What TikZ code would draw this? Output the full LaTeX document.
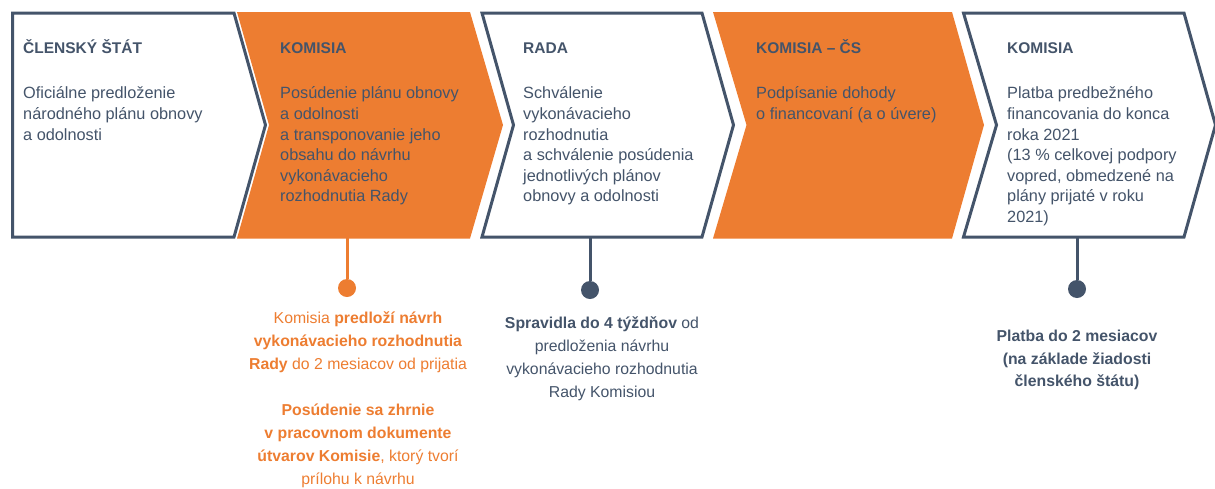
\documentclass[tikz,border=0pt]{standalone}
\usepackage{fontspec}
\setmainfont{Liberation Sans}
\definecolor{slate}{HTML}{44546A}
\definecolor{orng}{HTML}{ED7D31}
\tikzset{
  chevw/.style={draw=slate,line width=3pt,fill=white,line join=miter},
  chevo/.style={fill=orng},
  hd/.style={anchor=base west,inner sep=0pt,text=slate,font=\fontsize{15.5}{19}\selectfont\bfseries},
  bd/.style={anchor=north west,inner sep=0pt,text=slate,align=left,font=\fontsize{16.3}{20.6}\selectfont},
  note/.style={anchor=north,inner sep=0pt,align=center,font=\fontsize{15.8}{23}\selectfont},
  dotd/.style={circle,fill=slate,minimum size=18pt,inner sep=0pt},
  doto/.style={circle,fill=orng,minimum size=18pt,inner sep=0pt},
  stemd/.style={draw=slate,line width=3pt},
  stemo/.style={draw=orng,line width=3pt}
}
\begin{document}
\begin{tikzpicture}[x=1pt,y=-1pt]
    \useasboundingbox(0,0)rectangle(1215,488);
    % steps
    \draw[chevw](12.5,13)--(234,13)--(265.5,125)--(234,237)--(12.5,237)--cycle;
    \fill[chevo](237,12)--(470,12)--(503,125)--(470,238.5)--(237,238.5)--(269,125)--cycle;
    \draw[chevw](482,13)--(702,13)--(733.5,125)--(702,237)--(482,237)--(513.5,125)--cycle;
    \fill[chevo](713,12)--(952,12)--(984,125)--(952,238.5)--(713,238.5)--(746.5,125)--cycle;
    \draw[chevw](963.5,13)--(1184,13)--(1215.5,125)--(1184,237)--(963.5,237)--(996.5,125)--cycle;

    \node[hd](h1)at(23,53.5){ČLENSKÝ ŠTÁT};
    \node[hd](h2)at(280,53.5){KOMISIA};
    \node[hd](h3)at(523,53.5){RADA};
    \node[hd](h4)at(756,53.5){KOMISIA – ČS};
    \node[hd](h5)at(1007,53.5){KOMISIA};

    \node[bd](b1)at(23,86.6){Oficiálne predloženie\\národného plánu obnovy\\a odolnosti};
    \node[bd](b2)at(280,86.6){Posúdenie plánu obnovy\\a odolnosti\\a transponovanie jeho\\obsahu do návrhu\\vykonávacieho\\rozhodnutia Rady};
    \node[bd](b3)at(523,86.6){Schválenie\\vykonávacieho\\rozhodnutia\\a schválenie posúdenia\\jednotlivých plánov\\obnovy a odolnosti};
    \node[bd](b4)at(756,86.6){Podpísanie dohody\\o financovaní (a o úvere)};
    \node[bd](b5)at(1007,86.6){Platba predbežného\\financovania do konca\\roka 2021\\(13 \% celkovej podpory\\vopred, obmedzené na\\plány prijaté v roku\\2021)};

    % timing
    \coordinate(s2)at(347,238);
    \coordinate(s3)at(590,236);
    \coordinate(s5)at(1077,236);
    \node[doto](d2)at(347,288){};
    \node[dotd](d3)at(590,290){};
    \node[dotd](d5)at(1077,289){};
    \draw[stemo](s2)--(d2);
    \draw[stemd](s3)--(d3);
    \draw[stemd](s5)--(d5);

    \node[note,text=orng](t2)at(358,311){Komisia \textbf{predloží návrh}\\\textbf{vykonávacieho rozhodnutia}\\\textbf{Rady} do 2 mesiacov od prijatia\\[23pt]\textbf{Posúdenie sa zhrnie}\\\textbf{v pracovnom dokumente}\\\textbf{útvarov Komisie}, ktorý tvorí\\prílohu k návrhu};
    \node[note,text=slate](t3)at(602,316){\textbf{Spravidla do 4 týždňov} od\\predloženia návrhu\\vykonávacieho rozhodnutia\\Rady Komisiou};
    \node[note,text=slate,font=\fontsize{15.8}{22.5}\selectfont\bfseries](t5)at(1077,330){Platba do 2 mesiacov\\(na základe žiadosti\\členského štátu)};
\end{tikzpicture}
\end{document}
